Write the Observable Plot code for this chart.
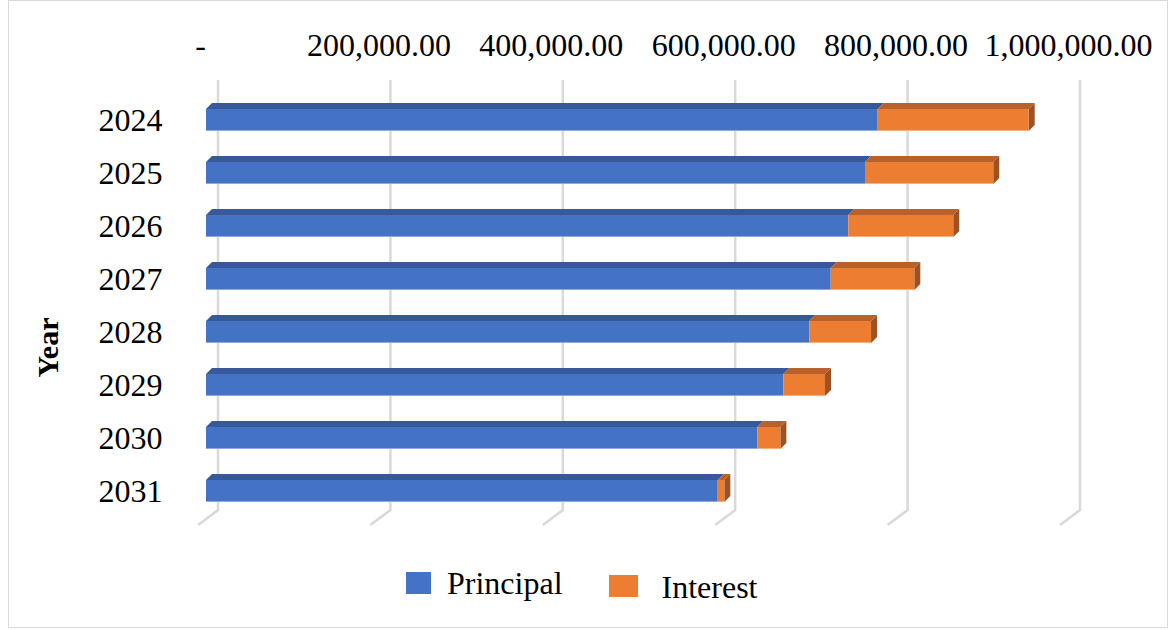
<!DOCTYPE html>
<html><head><meta charset="utf-8">
<script src="https://cdn.jsdelivr.net/npm/d3@7"></script>
<script src="https://cdn.jsdelivr.net/npm/@observablehq/plot@0.6"></script>
<style>
body{margin:0;background:#fff;font-family:"Liberation Serif","Times New Roman",serif;}
#wrap{position:relative;width:1175px;height:630px;overflow:hidden;background:#fff}
#border{position:absolute;left:8px;top:0;width:1160px;height:628px;border:1.5px solid #d9d9d9;box-sizing:border-box}
#chart{position:absolute;left:0;top:0}
#legend{position:absolute;left:406px;top:562px;display:flex;align-items:center;font-size:32px;color:#000;line-height:34px}
.sw{display:inline-block;width:25px;height:22px}
</style></head><body>
<div id="wrap"><div id="border"></div><div id="chart"></div><div id="legend"></div></div>
<script>
const years = ["2024", "2025", "2026", "2027", "2028", "2029", "2030", "2031"];
const principal = [779200, 764500, 745100, 724700, 699900, 669700, 639600, 593600];
const interest = [175200, 148800, 121800, 97000, 71600, 48400, 26700, 7700];
const xTicks = [0, 200000, 400000, 600000, 800000, 1000000];
const seriesNames = ["Principal", "Interest"];
const frontColors = ["#4472C4", "#ED7D31"];
const topColors = ["#37599A", "#B9612A"];
const sideColors = ["#2F4F8A", "#9C5222"];

const rows = [];
years.forEach((y, i) => rows.push({year: y, series: "Principal", value: principal[i]}));
years.forEach((y, i) => rows.push({year: y, series: "Interest", value: interest[i]}));

const serif = '"Liberation Serif","Times New Roman",serif';

function grid3d(index, scales, values, dims) {
  const g = d3.create("svg:g").attr("stroke", "#d9d9d9").attr("stroke-width", 2.5).attr("fill", "none");
  const top = dims.marginTop, bottom = dims.height - dims.marginBottom;
  for (const i of index) {
    const x = values.x[i];
    g.append("polyline").attr("points", `${x + 12},${top} ${x + 12},${bottom} ${x - 8},${bottom + 15}`);
  }
  return g.node();
}

function bars3d(index, scales, values) {
  const g = d3.create("svg:g");
  const ys = scales.y;
  const bw = typeof ys.bandwidth === "function" ? ys.bandwidth() : ys.bandwidth;
  const ddx = 6, ddy = 6;
  for (const i of index) {
    const a = Math.min(values.x1[i], values.x2[i]);
    const b = Math.max(values.x1[i], values.x2[i]);
    const y = values.y[i];
    const k = seriesNames.indexOf(rows[i].series);
    g.append("polygon")
      .attr("points", `${a},${y} ${b},${y} ${b + ddx},${y - ddy} ${a + ddx},${y - ddy}`)
      .attr("fill", topColors[k]);
    if (k === seriesNames.length - 1) {
      g.append("polygon")
        .attr("points", `${b},${y} ${b + ddx},${y - ddy} ${b + ddx},${y + bw - ddy} ${b},${y + bw}`)
        .attr("fill", sideColors[k]);
    }
    g.append("rect").attr("x", a).attr("y", y).attr("width", b - a).attr("height", bw).attr("fill", frontColors[k]);
    g.append("line").attr("x1", a).attr("x2", b).attr("y1", y + bw - 0.5).attr("y2", y + bw - 0.5)
      .attr("stroke", k === 0 ? "#8faadc" : "#f4b183").attr("stroke-width", 1);
  }
  return g.node();
}

const fmt = d3.format(",.2f");

const plot = Plot.plot({
  width: 1175,
  height: 550,
  marginLeft: 206,
  marginRight: 107,
  marginTop: 80,
  marginBottom: 40,
  style: {fontFamily: serif, background: "transparent", color: "#000"},
  x: {domain: [0, 1000000], axis: null},
  y: {domain: years, range: [90.7, 519.3], paddingInner: 0.59, paddingOuter: 0.295, axis: null},
  marks: [
    Plot.ruleX(xTicks, {x: d => d, render: grid3d}),
    Plot.barX(rows, Plot.stackX({x: "value", y: "year", render: bars3d})),
    Plot.text(xTicks.filter(d => d > 0), {x: d => d, text: d => fmt(d), frameAnchor: "top", lineAnchor: "middle", dy: -35, fontSize: 32, fill: "#000"}),
    Plot.text(xTicks.filter(d => d === 0), {x: d => d, text: () => "-", frameAnchor: "top", lineAnchor: "middle", dy: -35, dx: -6, fontSize: 32, fill: "#000"}),
    Plot.text(years, {y: d => d, text: d => d, frameAnchor: "left", dx: -44, textAnchor: "end", fontSize: 32, fill: "#000"}),
    Plot.text(["Year"], {text: d => d, frameAnchor: "left", textAnchor: "middle", lineAnchor: "middle", dx: -158, dy: 52, rotate: -90, fontSize: 30, fontWeight: "bold", fill: "#000"})
  ]
});
document.getElementById("chart").appendChild(plot);

const legend = document.getElementById("legend");
seriesNames.forEach((name, k) => {
  const sw = document.createElement("span");
  sw.className = "sw";
  sw.style.background = frontColors[k];
  sw.style.marginRight = k === 0 ? "16px" : "24px";
  if (k === 1) { sw.style.width = "29px"; sw.style.marginTop = "6px"; }
  const t = document.createElement("span");
  t.textContent = name;
  t.style.marginRight = k === 0 ? "46px" : "0";
  if (k === 1) t.style.marginTop = "8px";
  legend.appendChild(sw);
  legend.appendChild(t);
});
</script>
</body></html>
